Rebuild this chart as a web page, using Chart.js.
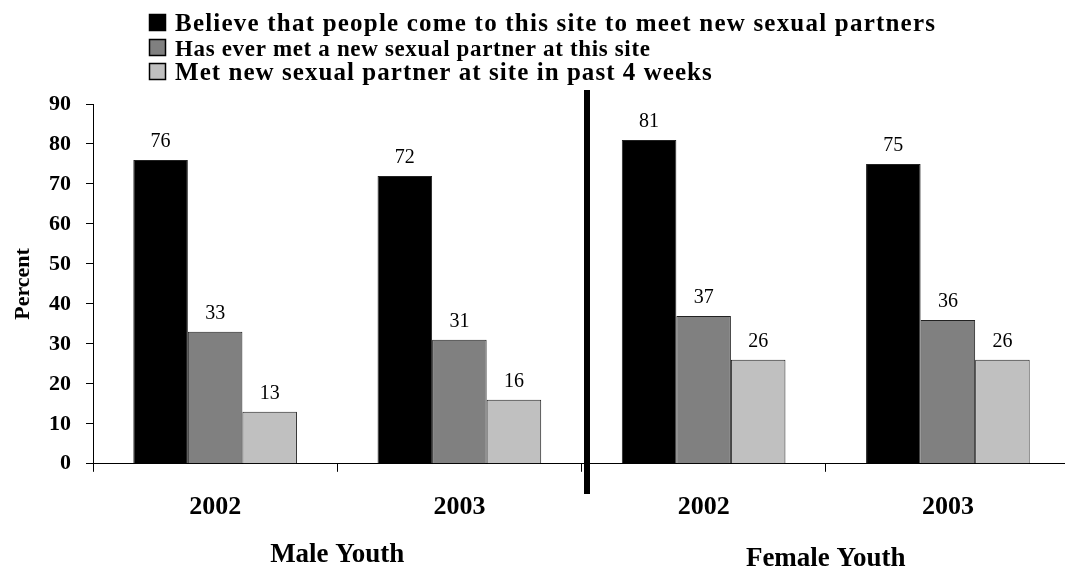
<!DOCTYPE html>
<html>
<head>
<meta charset="utf-8">
<script src="https://cdn.jsdelivr.net/npm/chart.js@4"></script>
<style>
  html, body { margin: 0; padding: 0; background: #fff; overflow: hidden; }
  /* a little wider than the window: the x axis runs off the right edge as in the original */
  #wrap { width: 1070px; height: 570px; position: relative; }
</style>
</head>
<body>
<div id="wrap"><canvas id="chart"></canvas></div>
<script>
const SERIF = "'Liberation Serif', 'Times New Roman', serif";

// data
const years = ['2002', '2003', '2002', '2003'];
const groups = ['Male Youth', 'Female Youth'];
const seriesNames = [
    'Believe that people come to this site to meet new sexual partners',
    'Has ever met a new sexual partner at this site',
    'Met new sexual partner at site in past 4 weeks'
];
const believe = [76, 72, 81, 75];
const everMet = [33, 31, 37, 36];
const pastFourWeeks = [13, 16, 26, 26];
const yTicks = [0, 10, 20, 30, 40, 50, 60, 70, 80, 90];

const colors = ['#000000', '#808080', '#c0c0c0'];

// value labels above bars
const valueLabels = {
    id: 'valueLabels',
    afterDatasetsDraw(chart) {
        const ctx = chart.ctx;
        ctx.save();
        ctx.font = '20px ' + SERIF;
        ctx.fillStyle = '#000';
        ctx.textAlign = 'center';
        ctx.textBaseline = 'alphabetic';
        chart.data.datasets.forEach((ds, i) => {
            chart.getDatasetMeta(i).data.forEach((bar, j) => {
                ctx.fillText(ds.data[j], bar.x, bar.y - 13);
            });
        });
        ctx.restore();
    }
};

// legend at the top; the rows are spaced out to the widths of the original
const topLegend = {
    id: 'topLegend',
    afterDraw(chart) {
        const ctx = chart.ctx;
        const sizes = [25, 23, 25];
        const baselines = [31, 56, 80];
        const widths = [760, 475, 537];
        ctx.save();
        ctx.textAlign = 'left';
        ctx.textBaseline = 'alphabetic';
        seriesNames.forEach((name, i) => {
            ctx.fillStyle = colors[i];
            ctx.fillRect(149, baselines[i] - 17, 17, 17);
            ctx.strokeStyle = '#000';
            ctx.lineWidth = 1.5;
            ctx.strokeRect(149.5, baselines[i] - 16.5, 16, 16);
            ctx.fillStyle = '#000';
            ctx.font = 'bold ' + sizes[i] + 'px ' + SERIF;
            ctx.letterSpacing = '0px';
            const w = ctx.measureText(name).width;
            ctx.letterSpacing = Math.max(0, (widths[i] - w) / (name.length - 1)).toFixed(2) + 'px';
            ctx.fillText(name, 175, baselines[i]);
        });
        ctx.restore();
    }
};

// thick divider and group titles
const groupDivider = {
    id: 'groupDivider',
    afterDraw(chart) {
        const ctx = chart.ctx;
        const x = chart.scales.x;
        const mid = (x.getPixelForValue(1) + x.getPixelForValue(2)) / 2;
        ctx.save();
        ctx.fillStyle = '#000';
        ctx.fillRect(Math.round(mid) + 2, 90, 6, 404);
        ctx.font = 'bold 27px ' + SERIF;
        ctx.textAlign = 'center';
        ctx.textBaseline = 'middle';
        ctx.fillText(groups[0], x.getPixelForValue(0.5), 555);
        ctx.fillText(groups[1], x.getPixelForValue(2.5), 559);
        ctx.restore();
    }
};

new Chart(document.getElementById('chart'), {
    type: 'bar',
    data: {
        labels: years,
        datasets: [
            { label: seriesNames[0], data: believe, backgroundColor: colors[0] },
            { label: seriesNames[1], data: everMet, backgroundColor: colors[1] },
            { label: seriesNames[2], data: pastFourWeeks, backgroundColor: colors[2] }
        ].map(d => Object.assign(d, {
            borderColor: '#222',
            borderWidth: 1,
            barPercentage: 1,
            categoryPercentage: 0.67
        }))
    },
    options: {
        responsive: true,
        maintainAspectRatio: false,
        animation: false,
        layout: { padding: { top: 104, left: 10, right: 0, bottom: 27 } },
        plugins: {
            legend: { display: false },
            tooltip: { enabled: false }
        },
        scales: {
            x: {
                grid: { offset: true, drawOnChartArea: false, color: '#000', tickLength: 8 },
                border: { color: '#000', width: 1 },
                ticks: {
                    color: '#000',
                    padding: 20,
                    font: { family: SERIF, size: 26, weight: 'bold' }
                }
            },
            y: {
                min: 0,
                max: 90,
                afterBuildTicks(axis) {
                    axis.ticks = yTicks.map(v => ({ value: v }));
                },
                afterFit(axis) {
                    axis.width = 83;
                },
                grid: { drawOnChartArea: false, color: '#000', tickLength: 7 },
                border: { color: '#000', width: 1 },
                ticks: {
                    color: '#000',
                    padding: 15,
                    font: { family: SERIF, size: 22, weight: 'bold' }
                },
                title: {
                    display: true,
                    text: 'Percent',
                    color: '#000',
                    padding: { top: 0, bottom: 4 },
                    font: { family: SERIF, size: 22, weight: 'bold' }
                }
            }
        }
    },
    plugins: [valueLabels, topLegend, groupDivider]
});
</script>
</body>
</html>
